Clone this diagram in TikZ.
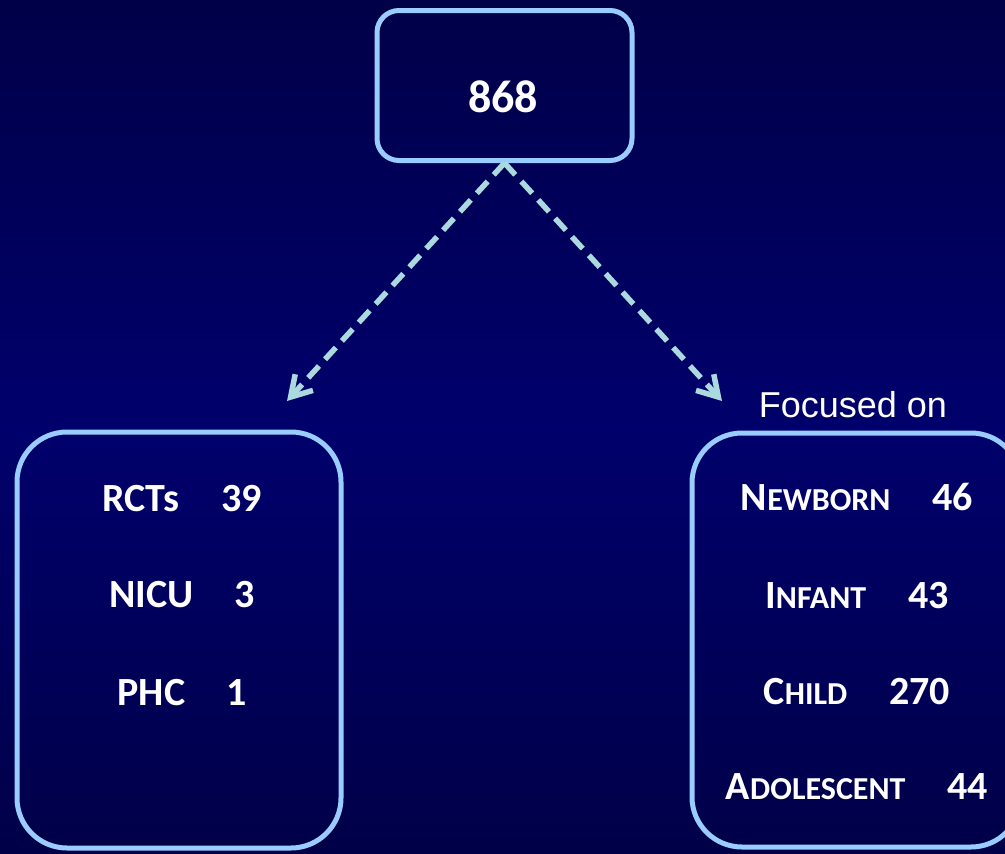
\documentclass[tikz,border=0pt]{standalone}
\usepackage{fontspec}
\setmainfont{Carlito}
\newfontfamily\arialfont{Liberation Sans}
\usetikzlibrary{positioning, arrows.meta}
\definecolor{boxline}{RGB}{153,204,255}
\definecolor{dashline}{RGB}{170,218,222}
\definecolor{navyedge}{RGB}{0,0,72}
\definecolor{navymid}{RGB}{0,0,108}
\tikzset{
    group box/.style = {draw=boxline, line width=5pt, inner sep=0pt, anchor=center},
    count row/.style = {text=white, font=\bfseries\fontsize{40}{40}\selectfont, anchor=base, inner sep=0pt},
    split edge/.style = {draw=dashline, line width=5.5pt, dash pattern=on 16pt off 9pt,
        -{Straight Barb[length=20pt,width=24pt]}},
}
\newcommand{\fakesc}[2]{#1{\fontsize{32}{32}\selectfont #2}}

\begin{document}
\begin{tikzpicture}[x=1pt, y=-1pt]
            \useasboundingbox (0, 0) rectangle (1005, 854);
            \clip (0, 0) rectangle (1005, 854);
            \shade [top color=navyedge, bottom color=navyedge, middle color=navymid] (0, 0) rectangle (1005, 854);

            \node (total) [group box, rounded corners=22pt, minimum width=255pt, minimum height=150pt] at (504.5, 85.5) {};
            \node (all) [count row, font=\bfseries\fontsize{46}{46}\selectfont] at (503, 112) {868};

            \node (design) [group box, rounded corners=50pt, minimum width=324pt, minimum height=416pt] at (179, 640) {};
            \node (rcts) [count row] at (182, 511) {RCTs\hspace{42pt}39};
            \node (nicu) [count row] at (182, 607) {NICU\hspace{41pt}3};
            \node (phc) [count row] at (182, 705) {PHC\hspace{41pt}1};

            \node (focus) [group box, rounded corners=50pt, minimum width=329pt, minimum height=414pt] at (856.5, 640) {};
            \node (label) [anchor=base, text=white, inner sep=0pt, font=\arialfont\fontsize{36}{36}\selectfont] at (853, 417) {Focused on};
            \node (newborn) [count row] at (857, 510) {\fakesc{N}{EWBORN}\hspace{42pt}46};
            \node (infant) [count row] at (857, 608) {\fakesc{I}{NFANT}\hspace{42pt}43};
            \node (child) [count row] at (857, 704) {\fakesc{C}{HILD}\hspace{42pt}270};
            \node (teen) [count row] at (857, 799) {\fakesc{A}{DOLESCENT}\hspace{42pt}44};

            \coordinate (lefttip) at (287, 401);
            \coordinate (righttip) at (722, 401);

            \draw [split edge] (total.south) -- (lefttip);
            \draw [split edge] (total.south) -- (righttip);
        \end{tikzpicture}
\end{document}
